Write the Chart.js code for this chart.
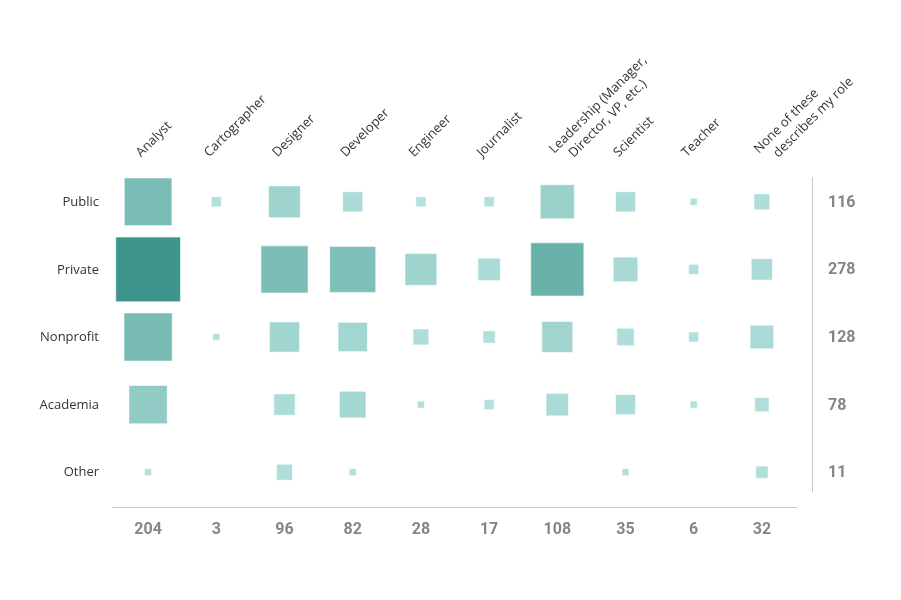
<!DOCTYPE html>
<html>
<head>
<meta charset="utf-8">
<script src="https://cdn.jsdelivr.net/npm/chart.js@4"></script>
<style>
html,body{margin:0;padding:0;background:#fff;}
canvas{display:block;}
</style>
</head>
<body>
<canvas id="c" width="901" height="600"></canvas>
<script>
// ---- data ----
const rowLabels = ['Public', 'Private', 'Nonprofit', 'Academia', 'Other'];
const colLabels = ['Analyst', 'Cartographer', 'Designer', 'Developer', 'Engineer', 'Journalist',
  ['Leadership (Manager,', 'Director, VP, etc.)'], 'Scientist', 'Teacher', ['None of these', 'describes my role']];
const publicVals    = [45, 2, 20,  8,  2,  2, 23,  8, 1,  5];
const privateVals   = [83, 0, 44, 42, 20, 10, 56, 12, 2,  9];
const nonprofitVals = [46, 1, 18, 17,  5,  3, 19,  6, 2, 11];
const academiaVals  = [29, 0,  9, 14,  1,  2, 10,  8, 1,  4];
const otherVals     = [ 1, 0,  5,  1,  0,  0,  0,  1, 0,  3];
const rowTotals = [116, 278, 128, 78, 11];
const colTotals = [204, 3, 96, 82, 28, 17, 108, 35, 6, 32];

const valueRows = [publicVals, privateVals, nonprofitVals, academiaVals, otherVals];
const maxVal = Math.max(...valueRows.flat());

const points = [];
valueRows.forEach((vals, r) => vals.forEach((v, c) => {
  if (v > 0) points.push({x: c, y: r, v: v});
}));

const light = [179, 225, 221], dark = [61, 149, 139];
function colorFor(v) {
  const t = Math.pow(Math.min(1, v / maxVal), 1.2);
  const c = light.map((l, i) => Math.round(l + (dark[i] - l) * t));
  return `rgb(${c[0]},${c[1]},${c[2]})`;
}
function radiusFor(v) {
  const side = 7.1 * Math.sqrt(v);
  return side / Math.SQRT2;
}

const labelsPlugin = {
  id: 'matrixLabels',
  afterDraw(chart) {
    const ctx = chart.ctx;
    const xs = chart.scales.x, ys = chart.scales.y;
    ctx.save();
    // row labels
    ctx.fillStyle = '#333';
    ctx.font = '13px "Open Sans"';
    ctx.textAlign = 'right';
    ctx.textBaseline = 'middle';
    rowLabels.forEach((l, i) => ctx.fillText(l, 99, ys.getPixelForValue(i) + 0.5));
    // column labels (rotated)
    ctx.textAlign = 'left';
    ctx.textBaseline = 'alphabetic';
    ctx.font = '13px "Open Sans"';
    colLabels.forEach((l, i) => {
      const cx = xs.getPixelForValue(i);
      ctx.save();
      if (Array.isArray(l)) {
        ctx.translate(cx - 3, 154);
        ctx.rotate(-Math.PI / 4);
        ctx.fillText(l[0], 0, 0);
        ctx.fillText(l[1], 11, 16.5);
      } else {
        ctx.translate(cx - 7, 157.5);
        ctx.rotate(-Math.PI / 4);
        ctx.fillText(l, 0, 0);
      }
      ctx.restore();
    });
    // lines
    ctx.strokeStyle = '#c8c8c8';
    ctx.lineWidth = 1;
    ctx.beginPath();
    ctx.moveTo(112, 507.5); ctx.lineTo(797, 507.5);
    ctx.moveTo(812.5, 177); ctx.lineTo(812.5, 492);
    ctx.stroke();
    // totals
    ctx.fillStyle = '#858585';
    ctx.font = 'bold 16px Roboto';
    ctx.textBaseline = 'middle';
    ctx.textAlign = 'left';
    rowTotals.forEach((t, i) => ctx.fillText(String(t), 828, ys.getPixelForValue(i) + 1));
    ctx.textAlign = 'center';
    colTotals.forEach((t, i) => ctx.fillText(String(t), xs.getPixelForValue(i), 530));
    ctx.restore();
  }
};

new Chart(document.getElementById('c'), {
  type: 'scatter',
  data: {
    datasets: [{
      data: points,
      pointStyle: 'rect',
      pointRadius: ctx => radiusFor(ctx.raw.v),
      pointHoverRadius: ctx => radiusFor(ctx.raw.v),
      backgroundColor: ctx => colorFor(ctx.raw.v),
      borderColor: 'rgba(255,255,255,0.55)',
      borderWidth: 1,
      clip: false
    }]
  },
  options: {
    responsive: false,
    animation: false,
    layout: {padding: {left: 114, right: 105, top: 168, bottom: 94}},
    scales: {
      x: {type: 'linear', min: -0.5, max: 9.5, display: false},
      y: {type: 'linear', min: -0.5, max: 4.5, reverse: true, display: false}
    },
    plugins: {legend: {display: false}, tooltip: {enabled: false}}
  },
  plugins: [labelsPlugin]
});
</script>
</body>
</html>
